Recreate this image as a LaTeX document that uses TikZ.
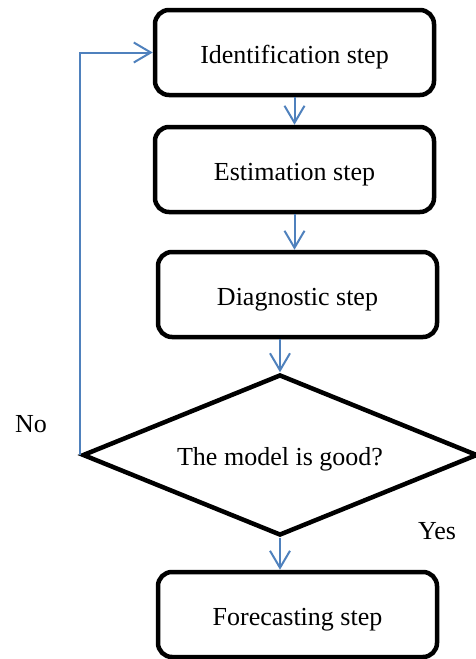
\documentclass[tikz,border=0pt]{standalone}
\usepackage{fontspec}
\setmainfont{Liberation Serif}
\usetikzlibrary{shapes.geometric,arrows.meta}
\definecolor{flowblue}{RGB}{79,129,189}

\begin{document}
\begin{tikzpicture}[x=1pt,y=-1pt,
    stepbox/.style={draw,line width=4.5pt,rounded corners=14pt,minimum width=279pt,minimum height=85pt,inner sep=0pt,text height=21pt,text depth=0pt,font=\fontsize{26}{31}\selectfont},
    decision/.style={draw,diamond,line width=4.5pt,aspect=2.4,inner sep=0pt,minimum width=395pt,minimum height=161pt,text height=21pt,text depth=0pt,font=\fontsize{26}{31}\selectfont},
    flow/.style={draw=flowblue,line width=2pt,-{Straight Barb[length=17pt,width=20pt]}},
    answer/.style={font=\fontsize{26}{31}\selectfont}]
            \useasboundingbox (0,0) rectangle (476,659);
            \node[stepbox] (ident) at (294.5,52.5) {Identification step};
            \node[stepbox] (estim) at (294.5,169.5) {Estimation step};
            \node[stepbox] (diagn) at (297.5,294.5) {Diagnostic step};
            \node[decision] (good) at (280,455) {The model is good?};
            \node[stepbox] (forec) at (297.5,614.5) {Forecasting step};
            \node[answer] (no) at (31,424) {No};
            \node[answer] (yes) at (437,531) {Yes};
            \draw[flow] (ident.south) -- (estim.north);
            \draw[flow] (estim.south) -- (estim.south |- diagn.north);
            \draw[flow] (good.north |- diagn.south) -- (good.north);
            \draw[flow] (good.south) -- (good.south |- forec.north);
            \draw[flow] (good.west) -- (good.west |- ident.west) -- (ident.west);
        \end{tikzpicture}
\end{document}
